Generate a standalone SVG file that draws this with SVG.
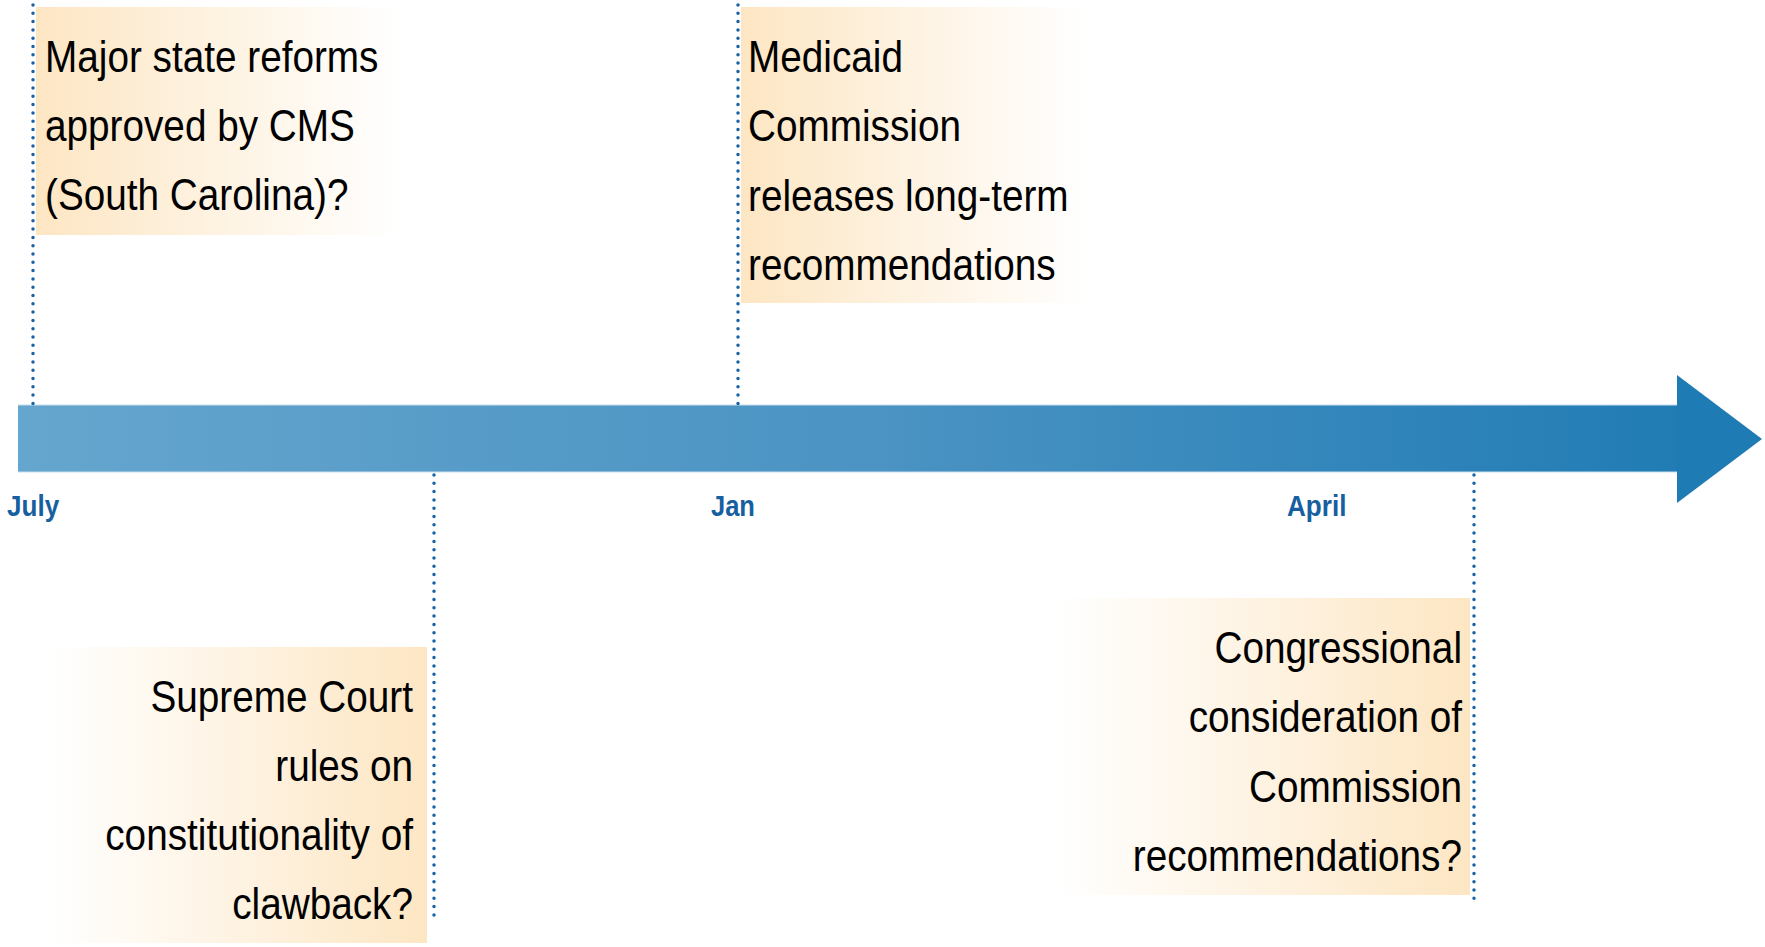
<svg xmlns="http://www.w3.org/2000/svg" width="1765" height="947" viewBox="0 0 1765 947">
  <defs>
    <linearGradient id="barGrad" x1="18" y1="0" x2="1762" y2="0" gradientUnits="userSpaceOnUse">
      <stop offset="0" stop-color="#65a6ce"/>
      <stop offset="0.5" stop-color="#4a93c3"/>
      <stop offset="1" stop-color="#1d7ab3"/>
    </linearGradient>
    <!-- peach tint fading to white, solid side next to the tick line -->
    <linearGradient id="fadeRight" x1="0" y1="0" x2="1" y2="0">
      <stop offset="0" stop-color="#fde6c3"/>
      <stop offset="0.55" stop-color="#fef4e5"/>
      <stop offset="1" stop-color="#ffffff"/>
    </linearGradient>
    <linearGradient id="fadeLeft" x1="1" y1="0" x2="0" y2="0">
      <stop offset="0" stop-color="#fde6c3"/>
      <stop offset="0.55" stop-color="#fef4e5"/>
      <stop offset="1" stop-color="#ffffff"/>
    </linearGradient>
  </defs>
  <style>
    .evt { font-family: "Liberation Sans", Arial, sans-serif; font-size: 44px; fill: #000000; }
    .end { text-anchor: end; }
    .month { font-family: "Liberation Sans", Arial, sans-serif; font-size: 29px; font-weight: bold; fill: #175f9f; }
    .tick { fill: none; stroke: #1a62a3; stroke-width: 3.5; stroke-linecap: round; stroke-dasharray: 0 8.3; }
    .edge { stroke: #c9ddec; stroke-width: 1; }
  </style>

  <rect width="1765" height="947" fill="#ffffff"/>

  <!-- timeline arrow -->
  <g id="timeline">
    <rect x="18" y="405" width="1660" height="67" fill="url(#barGrad)"/>
    <line class="edge" x1="18" y1="405" x2="1677" y2="405"/>
    <line class="edge" x1="18" y1="472" x2="1677" y2="472"/>
    <polygon points="1677,375 1762,439 1677,503" fill="#1f7bb4"/>
  </g>

  <!-- event callouts -->
  <g id="event-state-reforms">
    <rect x="36" y="7" width="366" height="228" fill="url(#fadeRight)"/>
    <text class="evt" transform="translate(45,72) scale(0.88,1)">Major state reforms</text>
    <text class="evt" transform="translate(45,141) scale(0.88,1)">approved by CMS</text>
    <text class="evt" transform="translate(45,210) scale(0.88,1)">(South Carolina)?</text>
  </g>

  <g id="event-commission-release">
    <rect x="741" y="7" width="347" height="296" fill="url(#fadeRight)"/>
    <text class="evt" transform="translate(748,72) scale(0.88,1)">Medicaid</text>
    <text class="evt" transform="translate(748,141) scale(0.88,1)">Commission</text>
    <text class="evt" transform="translate(748,211) scale(0.88,1)">releases long-term</text>
    <text class="evt" transform="translate(748,280) scale(0.88,1)">recommendations</text>
  </g>

  <g id="event-supreme-court">
    <rect x="48" y="647" width="379" height="296" fill="url(#fadeLeft)"/>
    <text class="evt end" transform="translate(413,712) scale(0.88,1)">Supreme Court</text>
    <text class="evt end" transform="translate(413,781) scale(0.88,1)">rules on</text>
    <text class="evt end" transform="translate(413,850) scale(0.88,1)">constitutionality of</text>
    <text class="evt end" transform="translate(413,919) scale(0.88,1)">clawback?</text>
  </g>

  <g id="event-congress">
    <rect x="1056" y="598" width="414" height="297" fill="url(#fadeLeft)"/>
    <text class="evt end" transform="translate(1462,663) scale(0.88,1)">Congressional</text>
    <text class="evt end" transform="translate(1462,732) scale(0.88,1)">consideration of</text>
    <text class="evt end" transform="translate(1462,802) scale(0.88,1)">Commission</text>
    <text class="evt end" transform="translate(1462,871) scale(0.88,1)">recommendations?</text>
  </g>

  <!-- dotted tick lines tying callouts to the timeline -->
  <g id="connectors">
    <line class="tick" x1="33" y1="5" x2="33" y2="405"/>
    <line class="tick" x1="738" y1="5" x2="738" y2="405"/>
    <line class="tick" x1="434" y1="475" x2="434" y2="917"/>
    <line class="tick" x1="1474" y1="475" x2="1474" y2="903"/>
  </g>

  <!-- month labels -->
  <g id="months">
    <text class="month" transform="translate(7,516) scale(0.9,1)">July</text>
    <text class="month" transform="translate(711,516) scale(0.88,1)">Jan</text>
    <text class="month" transform="translate(1287,516) scale(0.9,1)">April</text>
  </g>
</svg>
